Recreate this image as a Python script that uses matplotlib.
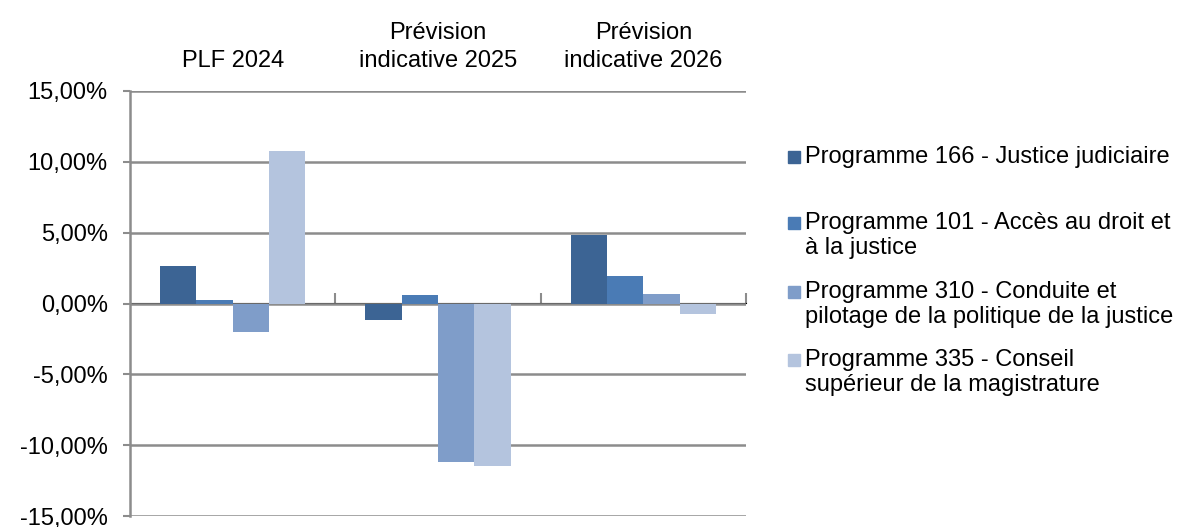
import matplotlib.pyplot as plt
import numpy as np
from matplotlib.patches import Rectangle

plt.rcParams["font.family"] = ["Liberation Sans", "DejaVu Sans"]

categories = ["PLF 2024", "Prévision\nindicative 2025", "Prévision\nindicative 2026"]
series_labels = [
    "Programme 166 - Justice judiciaire",
    "Programme 101 - Accès au droit et\nà la justice",
    "Programme 310 - Conduite et\npilotage de la politique de la justice",
    "Programme 335 - Conseil\nsupérieur de la magistrature",
]
p166 = [2.67, -1.13, 4.86]
p101 = [0.28, 0.61, 1.96]
p310 = [-1.98, -11.18, 0.68]
p335 = [10.80, -11.50, -0.75]
colors = ["#3C6494", "#4A7BB5", "#7F9DC9", "#B4C4DE"]

values = [p166, p101, p310, p335]
yticks = [-15, -10, -5, 0, 5, 10, 15]

fs = 17
grid_c = "#8C8C8C"

fig = plt.figure(figsize=(11.81, 5.27), dpi=100)
ax = fig.add_axes([130 / 1181, 1 - 516 / 527, 616 / 1181, 425 / 527])

n = len(values)
x = np.arange(len(categories))
width = 1 / (n + 1.65)
for i, (vals, col) in enumerate(zip(values, colors)):
    ax.bar(x + (i - (n - 1) / 2) * width, vals, width, color=col, zorder=3)

ax.set_xlim(-0.5, len(categories) - 0.5)
ax.set_ylim(yticks[0], yticks[-1])
ax.set_yticks(yticks)
ax.set_yticklabels([f"{v:.2f}".replace(".", ",") + "%" for v in yticks], fontsize=fs)
ax.tick_params(axis="y", length=5, width=1.5, color=grid_c, pad=11)
ax.yaxis.grid(True, color=grid_c, linewidth=1.8, zorder=0)
ax.set_axisbelow(True)

# category labels above the plot
ax.xaxis.tick_top()
ax.set_xticks(x)
ax.set_xticklabels(categories, fontsize=fs, linespacing=1.35)
ax.tick_params(axis="x", length=0, pad=13.5)

for side in ["top", "right", "bottom"]:
    ax.spines[side].set_visible(False)
ax.spines["left"].set_color(grid_c)
ax.spines["left"].set_linewidth(1.8)

# zero line with separator ticks between groups
sec = ax.secondary_xaxis(0.5)
sec.set_xticks(x + 0.5)
sec.set_xticklabels([])
sec.tick_params(axis="x", direction="out", length=7, width=1.5, color=grid_c)
sec.spines["bottom"].set_color(grid_c)
sec.spines["bottom"].set_linewidth(1.8)

# legend: marker lined up with the first line of each label
leg_y = [157, 223, 292, 360]
for lab, col, yy in zip(series_labels, colors, leg_y):
    fig.patches.append(Rectangle((788 / 1181, 1 - (yy + 6) / 527), 12 / 1181, 12 / 527,
                                 transform=fig.transFigure, color=col, figure=fig))
    fig.text(805 / 1181, 1 - (yy - 11) / 527, lab, fontsize=fs, va="top", ha="left",
             linespacing=1.2)

fig.savefig("out.png", dpi=100)
